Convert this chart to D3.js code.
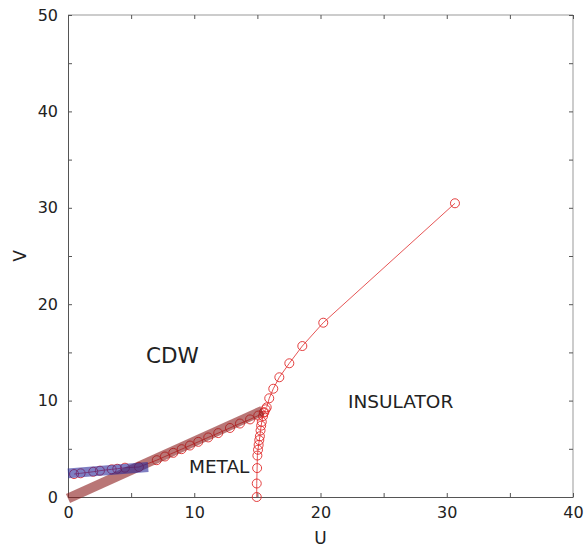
<!DOCTYPE html>
<meta charset="utf-8">
<style>
body { margin: 0; background: #fff; }
text { font-family: "DejaVu Sans", sans-serif; fill: #222; }
.frame { fill: none; stroke: #999; stroke-width: 1; }
.axis path { stroke: #555; }
.axis line { stroke: #555; }
.axis text { font-size: 16px; fill: #222; }
.line { fill: none; stroke: #e02a2a; stroke-width: 0.8px; }
.dot { fill: none; stroke: #e02a2a; stroke-width: 0.9px; }
</style>
<svg width="584" height="547"></svg>
<script src="https://cdn.jsdelivr.net/npm/d3@7"></script>
<script>

// metal / cdw boundary, lower branch
var lowerU = [0.48, 1.0, 2.0, 2.53, 3.46, 3.9, 4.51, 5.62, 7.03, 7.68, 8.34, 9.0, 9.66, 10.32, 11.11, 11.9, 12.83, 13.62, 14.42, 15.07, 15.5];
var lowerV = [2.38, 2.46, 2.62, 2.73, 2.87, 2.93, 3.04, 3.11, 3.82, 4.2, 4.58, 4.96, 5.34, 5.72, 6.18, 6.63, 7.16, 7.62, 8.05, 8.45, 8.75];

// metal / insulator boundary, near-vertical
var vertU = [14.95, 14.95, 14.98, 15.0, 15.05, 15.1, 15.15, 15.2, 15.25, 15.3, 15.35, 15.45, 15.55, 15.65];
var vertV = [0, 1.4, 3.0, 4.3, 4.9, 5.4, 5.9, 6.3, 6.9, 7.4, 7.8, 8.4, 8.8, 9.1];

// cdw / insulator boundary
var upperU = [15.74, 15.94, 16.26, 16.74, 17.53, 18.56, 20.22, 30.65];
var upperV = [9.3, 10.24, 11.23, 12.42, 13.87, 15.66, 18.08, 30.47];

// thick guide bands
var bandRedU = [0, 15.4], bandRedV = [-0.15, 8.95];
var bandBlueU = [0, 6.35], bandBlueV = [2.45, 3.12];

var xTicks = [0, 10, 20, 30, 40];
var yTicks = [0, 10, 20, 30, 40, 50];

var svg = d3.select("svg"),
    margin = {top: 15, right: 11, bottom: 50, left: 68},
    width = +svg.attr("width") - margin.left - margin.right,
    height = +svg.attr("height") - margin.top - margin.bottom,
    g = svg.append("g").attr("transform", "translate(" + margin.left + "," + margin.top + ")");

var x = d3.scaleLinear().domain([0, 40]).range([0, width]),
    y = d3.scaleLinear().domain([0, 50]).range([height, 0]);

function zip(us, vs) { return us.map(function(u, i) { return {u: u, v: vs[i]}; }); }

var line = d3.line()
    .x(function(d) { return x(d.u); })
    .y(function(d) { return y(d.v); });

// frame top/right
g.append("path").attr("class", "frame")
    .attr("d", "M0,0H" + width + "V" + height);

// minor ticks all sides
var minorX = d3.range(0, 41, 5), minorY = d3.range(0, 51, 5);
g.append("g").attr("class", "axis").attr("transform", "translate(0," + height + ")")
    .call(d3.axisBottom(x).tickValues(minorX).tickSizeInner(-4).tickSizeOuter(0).tickFormat(""));
g.append("g").attr("class", "axis")
    .call(d3.axisTop(x).tickValues(minorX).tickSizeInner(-4).tickSizeOuter(0).tickFormat(""))
    .select(".domain").remove();
g.append("g").attr("class", "axis")
    .call(d3.axisLeft(y).tickValues(minorY).tickSizeInner(-4).tickSizeOuter(0).tickFormat(""));
g.append("g").attr("class", "axis").attr("transform", "translate(" + width + ",0)")
    .call(d3.axisRight(y).tickValues(minorY).tickSizeInner(-4).tickSizeOuter(0).tickFormat(""))
    .select(".domain").remove();

// labels
var xa = g.append("g").attr("class", "axis").attr("transform", "translate(0," + height + ")")
    .call(d3.axisBottom(x).tickValues(xTicks).tickSize(0).tickPadding(10));
xa.select(".domain").remove();
var ya = g.append("g").attr("class", "axis")
    .call(d3.axisLeft(y).tickValues(yTicks).tickSize(0).tickPadding(10));
ya.select(".domain").remove();

svg.append("text").attr("x", margin.left + x(20)).attr("y", 544)
    .attr("text-anchor", "middle").style("font-size", "17px").text("U");
svg.append("text").attr("transform", "translate(26," + (margin.top + y(25)) + ") rotate(-90)")
    .attr("text-anchor", "middle").style("font-size", "17px").text("V");

// data series
[zip(lowerU, lowerV), zip(vertU, vertV), zip(upperU, upperV)].forEach(function(s) {
  g.append("path").datum(s).attr("class", "line").attr("d", line);
  g.selectAll(null).data(s).enter().append("circle")
      .attr("class", "dot")
      .attr("cx", function(d) { return x(d.u); })
      .attr("cy", function(d) { return y(d.v); })
      .attr("r", 4.5);
});

// bands
g.append("path").datum(zip(bandRedU, bandRedV))
    .attr("d", line).attr("fill", "none")
    .attr("stroke", "#8b1a1a").attr("stroke-opacity", 0.6).attr("stroke-width", 10);
g.append("path").datum(zip(bandBlueU, bandBlueV))
    .attr("d", line).attr("fill", "none")
    .attr("stroke", "#2a2a9a").attr("stroke-opacity", 0.6).attr("stroke-width", 10);

// region names
g.append("text").attr("x", x(6.18)).attr("y", y(13.95)).style("font-size", "21.5px").text("CDW");
g.append("text").attr("x", x(9.58)).attr("y", y(2.54)).style("font-size", "18.5px").text("METAL");
g.append("text").attr("x", x(22.18)).attr("y", y(9.28)).style("font-size", "18.5px").text("INSULATOR");

</script>
